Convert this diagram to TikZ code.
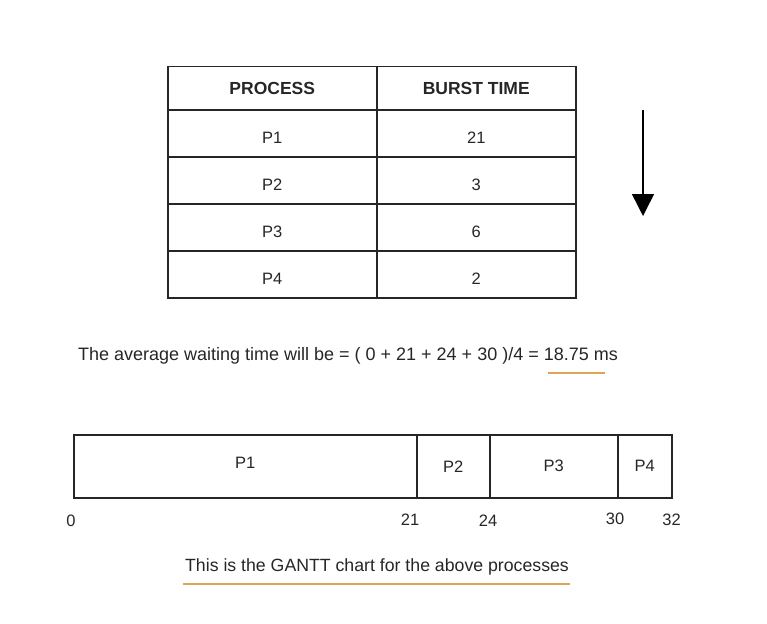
\documentclass[tikz,border=0pt]{standalone}
\usepackage{fontspec}
\setmainfont{Liberation Sans}
\usetikzlibrary{positioning, arrows.meta}

\definecolor{inkgray}{RGB}{38,38,38}
\definecolor{markorange}{RGB}{222,165,85}

\tikzset{
  cell/.style={draw=inkgray, line width=1.5pt, anchor=north west, inner sep=0pt,
    text=inkgray, text height=20pt, text depth=0pt, font=\fontsize{16.5}{19}\selectfont},
  headcell/.style={cell, text height=12pt, font=\fontsize{17.5}{20}\selectfont\bfseries},
  slot/.style={draw=inkgray, line width=1.5pt, anchor=north west, inner sep=0pt,
    minimum height=63pt, text=inkgray, font=\fontsize{16.5}{19}\selectfont},
  timelabel/.style={text=inkgray, font=\fontsize{16.5}{19}\selectfont, inner sep=0pt},
  note/.style={text=inkgray, inner sep=0pt},
  underl/.style={draw=markorange, line width=1.3pt},
}

\begin{document}
\begin{tikzpicture}[x=1pt, y=-1pt]
  \useasboundingbox (0,0) rectangle (767,623);

  % Table of processes
  \node[headcell, minimum width=209pt, minimum height=43pt] (h1) at (167,66) {PROCESS};
  \node[headcell, minimum width=199pt, minimum height=43pt] (h2) at (376,66) {BURST TIME};
  \foreach \p/\b [count=\i] in {P1/21, P2/3, P3/6, P4/2} {
    \node[cell, minimum width=209pt, minimum height=47pt] (p\i) at (167,62+47*\i) {\p};
    \node[cell, minimum width=199pt, minimum height=47pt] (b\i) at (376,62+47*\i) {\b};
  }

  % Arrow
  \coordinate (atop) at (643,110);
  \coordinate (abot) at (643,216);
  \draw[line width=1.5pt, -{Triangle[width=22pt, length=22pt]}] (atop) -- (abot);

  % Average waiting time
  \node[note, font=\fontsize{18}{21}\selectfont] (avg) at (348,356)
    {The average waiting time will be = ( 0 + 21 + 24 + 30 )/4 = 18.75 ms};
  \coordinate (m1a) at (548,373);
  \coordinate (m1b) at (605,373);
  \draw[underl] (m1a) -- (m1b);

  % Gantt chart
  \node[slot, minimum width=343pt, text height=4pt, text depth=0pt] (g1) at (73,434) {P1};
  \node[slot, minimum width=73pt]  (g2) at (416,434) {P2};
  \node[slot, minimum width=128pt] (g3) at (489,434) {P3};
  \node[slot, minimum width=54pt]  (g4) at (617,434) {P4};

  % Time labels
  \node[timelabel, below=16pt of g1.south west, xshift=-2pt] (t0)  {0};
  \node[timelabel, below=15pt of g2.south west, xshift=-6pt] (t21) {21};
  \node[timelabel, below=16pt of g3.south west, xshift=-1pt] (t24) {24};
  \node[timelabel, below=14pt of g4.south west, xshift=-2pt] (t30) {30};
  \node[timelabel, below=15pt of g4.south east, xshift=-1pt] (t32) {32};

  % Caption
  \node[note, font=\fontsize{17.7}{21}\selectfont] (cap) at (377,567)
    {This is the GANTT chart for the above processes};
  \coordinate (m2a) at (183,584);
  \coordinate (m2b) at (570,584);
  \draw[underl] (m2a) -- (m2b);

\end{tikzpicture}
\end{document}
